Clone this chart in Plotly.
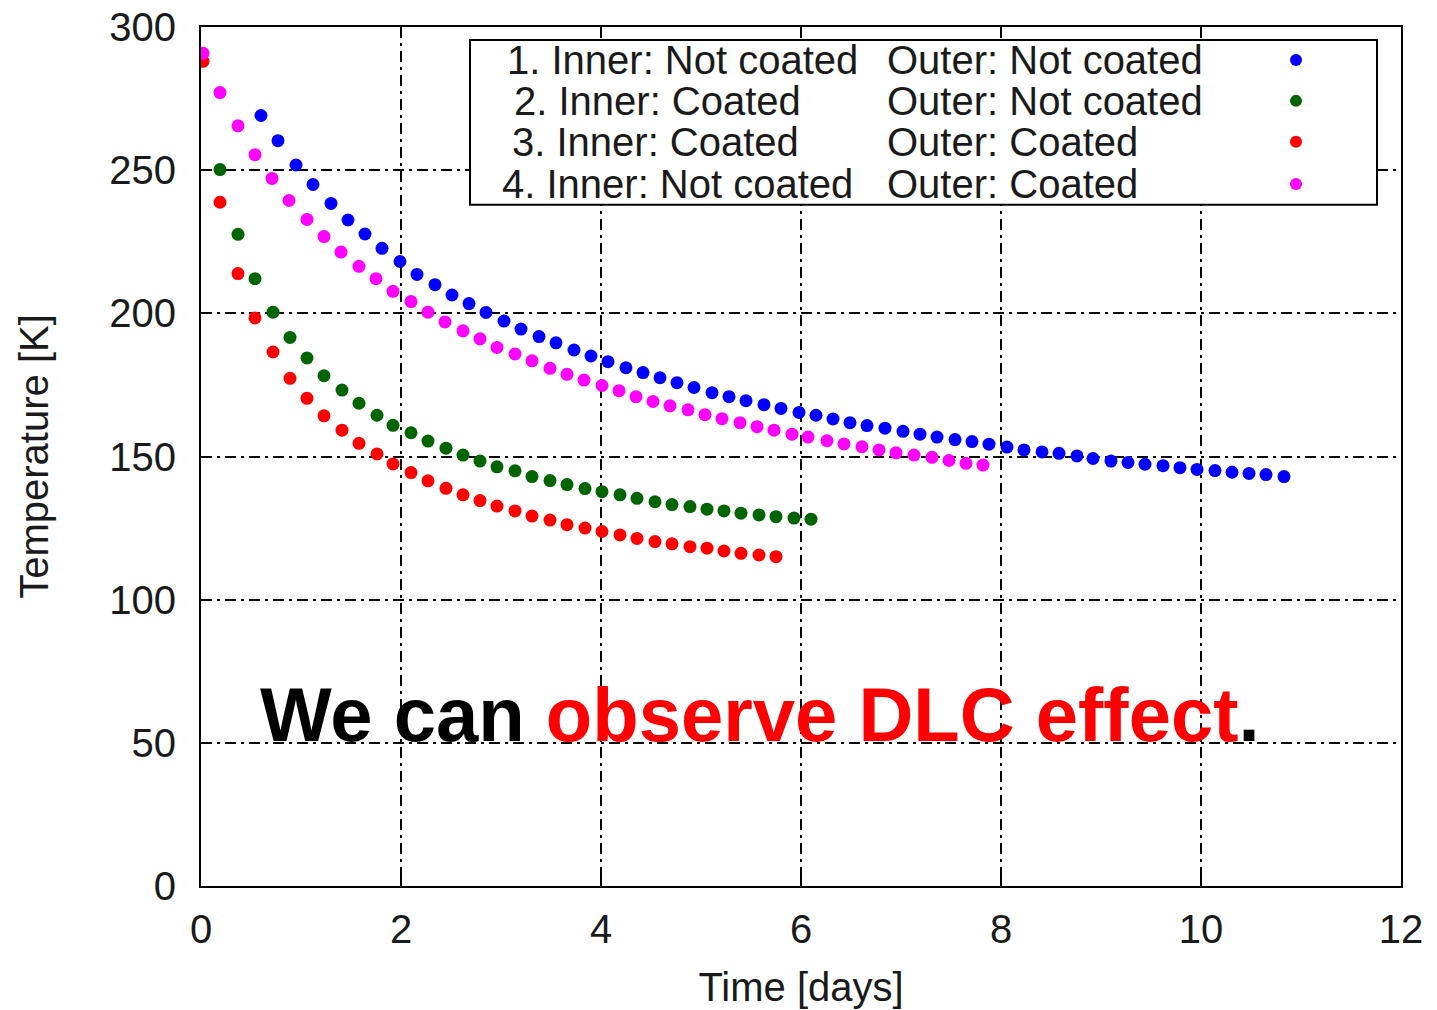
import plotly.graph_objects as go

# ---------------- data ----------------
days_1 = [0.60, 0.77, 0.95, 1.12, 1.30, 1.47, 1.64, 1.81, 1.99, 2.16, 2.34, 2.51, 2.68, 2.85, 3.03, 3.20,
          3.38, 3.55, 3.73, 3.90, 4.07, 4.25, 4.42, 4.59, 4.76, 4.93, 5.11, 5.28, 5.45, 5.63, 5.80, 5.98,
          6.15, 6.32, 6.49, 6.66, 6.84, 7.02, 7.19, 7.36, 7.54, 7.71, 7.88, 8.06, 8.23, 8.41, 8.58, 8.76,
          8.92, 9.10, 9.27, 9.44, 9.62, 9.79, 9.96, 10.14, 10.31, 10.48, 10.65, 10.83]
temp_1 = [269.1, 260.3, 251.8, 245.0, 238.4, 232.6, 227.7, 222.7, 218.1, 213.6, 210.0, 206.4, 203.4, 200.3,
          197.3, 194.5, 191.9, 189.7, 187.2, 185.1, 183.1, 181.0, 179.3, 177.5, 175.8, 174.1, 172.3, 170.9,
          169.5, 168.1, 166.8, 165.4, 164.4, 163.1, 161.8, 160.8, 159.9, 158.8, 157.8, 156.8, 155.9, 155.2,
          154.3, 153.3, 152.3, 151.6, 151.1, 150.2, 149.3, 148.4, 147.9, 147.3, 146.8, 146.1, 145.5, 145.1,
          144.5, 144.1, 143.7, 143.0]

days_2 = [0.19, 0.37, 0.54, 0.72, 0.89, 1.06, 1.23, 1.41, 1.58, 1.76, 1.92, 2.10, 2.27, 2.45, 2.62, 2.79,
          2.96, 3.14, 3.31, 3.49, 3.66, 3.84, 4.01, 4.19, 4.36, 4.54, 4.71, 4.89, 5.06, 5.23, 5.40, 5.58,
          5.75, 5.93, 6.10]
temp_2 = [250.2, 227.6, 212.1, 200.4, 191.6, 184.4, 178.2, 173.2, 168.6, 164.4, 160.9, 158.3, 155.4, 152.9,
          150.5, 148.4, 146.4, 145.0, 143.0, 141.6, 140.2, 138.8, 137.7, 136.6, 135.4, 134.2, 133.2, 132.5,
          131.6, 131.0, 130.2, 129.6, 129.0, 128.5, 128.1]

days_3 = [0.02, 0.19, 0.37, 0.54, 0.72, 0.89, 1.06, 1.23, 1.41, 1.58, 1.76, 1.92, 2.10, 2.27, 2.45, 2.62,
          2.79, 2.96, 3.14, 3.31, 3.49, 3.66, 3.84, 4.01, 4.19, 4.36, 4.54, 4.71, 4.89, 5.06, 5.23, 5.40,
          5.58, 5.75]
temp_3 = [288.0, 238.8, 213.9, 198.4, 186.5, 177.3, 170.3, 164.2, 159.2, 154.6, 150.9, 147.4, 144.4, 141.5,
          138.9, 136.6, 134.6, 132.7, 131.0, 129.2, 127.8, 126.2, 125.0, 123.8, 122.6, 121.4, 120.3, 119.5,
          118.5, 118.0, 117.0, 116.2, 115.6, 115.0]

days_4 = [0.02, 0.19, 0.37, 0.54, 0.71, 0.88, 1.06, 1.23, 1.40, 1.58, 1.75, 1.92, 2.10, 2.27, 2.44, 2.62,
          2.79, 2.96, 3.14, 3.31, 3.49, 3.66, 3.83, 4.01, 4.18, 4.35, 4.52, 4.69, 4.87, 5.04, 5.21, 5.39,
          5.56, 5.73, 5.91, 6.07, 6.26, 6.43, 6.61, 6.78, 6.95, 7.13, 7.31, 7.48, 7.65, 7.82]
temp_4 = [290.8, 277.1, 265.5, 255.4, 247.1, 239.4, 232.8, 226.8, 221.4, 216.4, 212.1, 207.7, 204.1, 200.4,
          197.0, 193.9, 191.1, 188.1, 185.8, 183.4, 180.8, 178.7, 176.7, 174.8, 173.0, 170.9, 169.2, 167.7,
          166.3, 164.6, 163.2, 161.8, 160.4, 159.2, 157.8, 156.8, 155.5, 154.4, 153.4, 152.3, 151.3, 150.5,
          149.7, 148.6, 147.6, 147.0]

legend_inner = ["1. Inner: Not coated", "2. Inner: Coated", "3. Inner: Coated", "4. Inner: Not coated"]
legend_outer = ["Outer: Not coated", "Outer: Not coated", "Outer: Coated", "Outer: Coated"]
series_colors = ["#0000ff", "#006400", "#ff0000", "#ff00ff"]

x_ticks = [0, 2, 4, 6, 8, 10, 12]
y_ticks = [0, 50, 100, 150, 200, 250, 300]

FONT = "Arial, Liberation Sans, sans-serif"
TXT = "#1a1a1a"

fig = go.Figure()
all_days = [days_1, days_2, days_3, days_4]
all_temps = [temp_1, temp_2, temp_3, temp_4]
for d, t, c, n1, n2 in zip(all_days, all_temps, series_colors, legend_inner, legend_outer):
    fig.add_trace(go.Scatter(x=d, y=t, mode="markers", name=n1 + "  " + n2,
                             marker=dict(color=c, size=13, line=dict(width=0)),
                             showlegend=False))

# ---------------- manual gnuplot-style legend ----------------
fig.add_shape(type="rect", xref="x", yref="y", x0=2.69, x1=11.76, y0=237.9, y1=295.5,
              line=dict(color="black", width=2), fillcolor="white", layer="above")
row_y = [288.5, 274.2, 259.9, 245.2]
left_x = [3.04, 3.11, 3.09, 2.99]
for i in range(4):
    fig.add_annotation(x=left_x[i], y=row_y[i], xref="x", yref="y", text=legend_inner[i],
                       showarrow=False, xanchor="left", yanchor="middle",
                       font=dict(family=FONT, size=40, color=TXT))
    fig.add_annotation(x=6.84, y=row_y[i], xref="x", yref="y", text=legend_outer[i],
                       showarrow=False, xanchor="left", yanchor="middle",
                       font=dict(family=FONT, size=40, color=TXT))
    fig.add_shape(type="circle", xref="x", yref="y", xsizemode="pixel", ysizemode="pixel",
                  xanchor=10.95, yanchor=row_y[i], x0=-6, x1=6, y0=-6, y1=6,
                  fillcolor=series_colors[i], line=dict(width=0), layer="above")

# ---------------- big message ----------------
fig.add_annotation(x=5.585, y=59.8, xref="x", yref="y", showarrow=False,
                   xanchor="center", yanchor="middle",
                   text='We can <span style="color:#ff0000">observe DLC effect</span>.',
                   font=dict(family=FONT, size=76, color="black", weight="bold"))

grid = dict(showgrid=True, gridcolor="black", gridwidth=1.5, griddash="11px,5px,3px,5px",
            zeroline=False, showline=True, mirror=True, linecolor="black", linewidth=2,
            ticks="inside", ticklen=10, tickcolor="black", tickwidth=1.5, automargin=False,
            ticklabeloverflow="allow",
            tickfont=dict(family=FONT, size=40, color=TXT))

fig.update_xaxes(range=[0, 12], tickvals=x_ticks, ticktext=[str(v) for v in x_ticks],
                 ticklabelstandoff=7,
                 title=dict(text="Time [days]", font=dict(family=FONT, size=40, color=TXT), standoff=23),
                 **grid)
fig.update_yaxes(range=[0, 300], tickvals=y_ticks, ticktext=[str(v) for v in y_ticks],
                 ticklabelstandoff=15,
                 title=dict(text="Temperature [K]", font=dict(family=FONT, size=40, color=TXT), standoff=48),
                 **grid)

fig.update_layout(width=1437, height=1010, margin=dict(l=201, r=36, t=27, b=124),
                  plot_bgcolor="white", paper_bgcolor="white", showlegend=False)

fig.write_html("out.html", config={"displayModeBar": False})

# remove the browser's default 8px body margin so the figure fills the window exactly
with open("out.html", "r", encoding="utf-8") as f:
    html = f.read()
html = html.replace("<body>", '<body style="margin:0;padding:0;overflow:hidden;">', 1)
with open("out.html", "w", encoding="utf-8") as f:
    f.write(html)
